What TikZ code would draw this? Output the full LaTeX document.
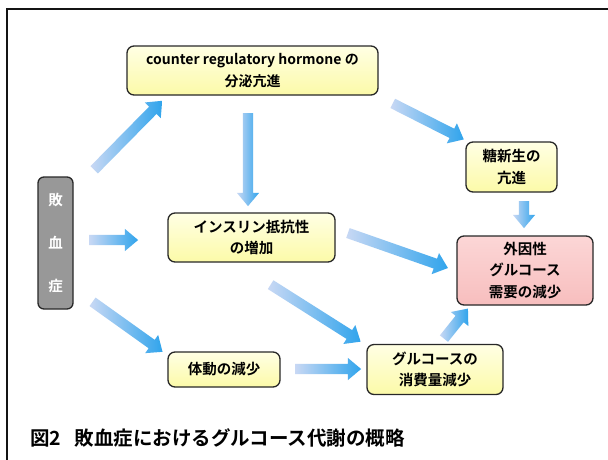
\documentclass[tikz,border=0pt]{standalone}
\usepackage{fontspec}
\newfontfamily\jp{Noto Sans CJK JP}
\newfontfamily\jpb{Noto Sans CJK JP Bold}
\usetikzlibrary{calc,shapes.arrows}
\definecolor{frame}{RGB}{20,20,20}
\definecolor{boxline}{RGB}{40,40,40}
\definecolor{yelT}{RGB}{255,255,228}
\definecolor{yelB}{RGB}{252,250,168}
\definecolor{pinkT}{RGB}{252,214,214}
\definecolor{pinkB}{RGB}{247,190,190}
\definecolor{sepsisgray}{RGB}{152,152,152}
\definecolor{arrpale}{RGB}{200,216,244}
\definecolor{arrblue}{RGB}{48,164,236}
\tikzset{
  box/.style={draw=boxline, line width=1.3pt, rounded corners=7pt, top color=yelT, bottom color=yelB,
    align=center, inner sep=0pt, font=\jpb\fontsize{14.5}{21.5}\selectfont},
  pinkbox/.style={box, top color=pinkT, bottom color=pinkB},
  graybox/.style={draw=boxline, line width=1.3pt, rounded corners=6pt, fill=sepsisgray,
    align=center, inner sep=0pt, text=white, font=\jpb\fontsize{14.5}{43}\selectfont},
  fatarr/.style={single arrow, draw=none, inner xsep=0pt, inner ysep=5pt, single arrow head extend=6pt,
    single arrow tip angle=80, single arrow head indent=0pt, left color=arrpale, right color=arrblue,
    allow upside down, sloped, midway}
}
\newcommand\fatarrow[2]{\path let \p1=($(#2)-(#1)$), \n1={veclen(\x1,\y1)} in (#1) -- (#2) node[fatarr, minimum height=\n1]{};}
\begin{document}
\begin{tikzpicture}[x=1pt,y=-1pt]
\useasboundingbox (0,0) rectangle (608,459);
\fill[white] (0,0) rectangle (608,459);
\begin{scope}
\clip (0,0) rectangle (608,459);
\draw[frame, line width=2pt] (7,9) rectangle (640,490);
\end{scope}
% boxes
\node[box, minimum width=251pt, minimum height=49pt, font=\jpb\fontsize{14}{22}\selectfont] (crh) at (252.5,70.5) {counter regulatory hormone の\\分泌亢進};
\node[box, minimum width=91pt, minimum height=50pt] (tou) at (511.5,167) {糖新生の\\亢進};
\node[graybox, minimum width=35pt, minimum height=132pt] (sep) at (55.5,243) {敗\\血\\症};
\node[box, minimum width=167pt, minimum height=49pt] (ins) at (251.5,237.5) {インスリン抵抗性\\の増加};
\node[pinkbox, minimum width=136pt, minimum height=69pt] (gai) at (525,270.5) {外因性\\グルコース\\需要の減少};
\node[box, minimum width=112pt, minimum height=35pt] (tai) at (224,369.5) {体動の減少};
\node[box, minimum width=136pt, minimum height=50pt] (glu) at (435,369.5) {グルコースの\\消費量減少};
\node[anchor=west, inner sep=0pt, font=\jpb\fontsize{19.5}{22}\selectfont] (cap) at (30,438) {図2\hspace{0.7em}敗血症におけるグルコース代謝の概略};
% arrow end points
\coordinate (a1s) at (92,172);  \coordinate (a1e) at (160,103);
\coordinate (a2s) at (248,110); \coordinate (a2e) at (248,203);
\coordinate (a3s) at (390,102); \coordinate (a3e) at (461,138);
\coordinate (a4s) at (524,198); \coordinate (a4e) at (524,225);
\coordinate (a5s) at (86,240);  \coordinate (a5e) at (135,240);
\coordinate (a6s) at (345,232); \coordinate (a6e) at (445,267);
\coordinate (a7s) at (268,283); \coordinate (a7e) at (358,340);
\coordinate (a8s) at (90,300);  \coordinate (a8e) at (160,350);
\coordinate (a9s) at (292,369); \coordinate (a9e) at (358,369);
\coordinate (a10s) at (442,341); \coordinate (a10e) at (466,311);
\fatarrow{a1s}{a1e}
\fatarrow{a2s}{a2e}
\fatarrow{a3s}{a3e}
\fatarrow{a4s}{a4e}
\fatarrow{a5s}{a5e}
\fatarrow{a6s}{a6e}
\fatarrow{a7s}{a7e}
\fatarrow{a8s}{a8e}
\fatarrow{a9s}{a9e}
\fatarrow{a10s}{a10e}
\end{tikzpicture}
\end{document}
